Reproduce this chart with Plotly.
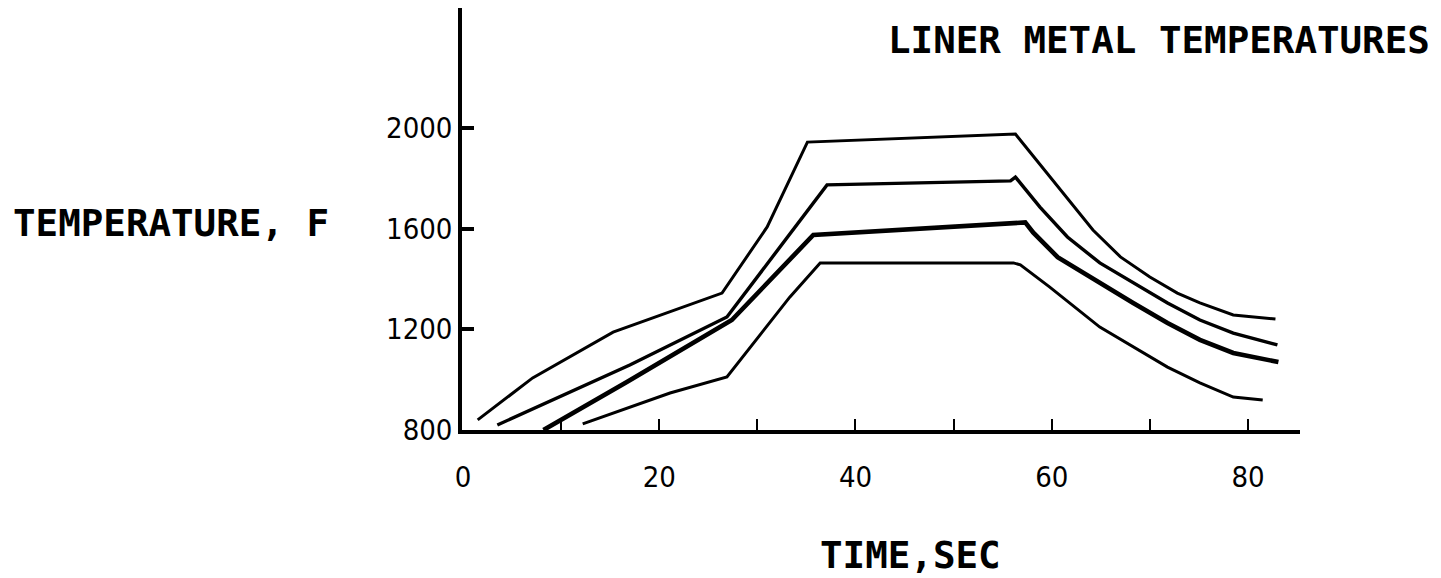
import plotly.graph_objects as go

# ---- data (time in s, temperature in F) ----
t1 = [1.5, 7.1, 15.3, 21.1, 26.4, 31.0, 35.1, 56.3, 64.2, 67.0, 70.0, 72.8, 75.1, 78.5, 82.8]
T1 = [840, 1007, 1189, 1269, 1344, 1607, 1944, 1976, 1595, 1488, 1408, 1344, 1305, 1257, 1241]

t2 = [3.5, 17.0, 26.9, 37.1, 55.8, 56.3, 58.8, 61.6, 64.9, 68.3, 71.8, 75.1, 78.5, 83.0]
T2 = [820, 1058, 1249, 1774, 1790, 1805, 1686, 1567, 1464, 1384, 1305, 1237, 1185, 1138]

t3 = [8.2, 16.7, 27.4, 35.7, 57.3, 58.1, 60.6, 64.9, 68.3, 71.8, 75.1, 78.5, 83.1]
T3 = [800, 991, 1237, 1575, 1625, 1585, 1487, 1384, 1305, 1225, 1158, 1106, 1070]

t4 = [12.2, 21.1, 26.9, 33.3, 36.4, 56.1, 56.8, 59.8, 64.9, 68.3, 71.8, 75.1, 78.5, 81.5]
T4 = [824, 947, 1011, 1328, 1464, 1464, 1456, 1368, 1209, 1130, 1050, 987, 931, 919]

series = [(t1, T1, 3.0), (t2, T2, 3.4), (t3, T3, 4.6), (t4, T4, 3.0)]

x_tickvals = [0, 10, 20, 30, 40, 50, 60, 70, 80]
x_ticktext = ["0", "", "20", "", "40", "", "60", "", "80"]
y_tickvals = [800, 1200, 1600, 2000]
y_ticktext = ["800", "1200", "1600", "2000"]

title_text = "LINER METAL TEMPERATURES"
ylabel_text = "TEMPERATURE, F"
xlabel_text = "TIME,SEC"

fig = go.Figure()
for tt, TT, w in series:
    fig.add_trace(go.Scatter(x=tt, y=TT, mode="lines",
                             line=dict(color="black", width=w),
                             showlegend=False, hoverinfo="skip"))

tick_font = dict(family="Liberation Sans Narrow, DejaVu Sans Condensed, Liberation Sans",
                 size=29, color="black")
label_font = dict(family="DejaVu Sans Mono", size=37.5, color="black", weight="bold")

# page body has an 8px margin: work in page pixels minus 8
OFF = 8
L, R, T, B = 462 - OFF, 1300 - OFF, 8 - OFF, 430 - OFF
W, H = 1441 - OFF, 578 - OFF

fig.update_layout(
    width=W, height=H,
    margin=dict(l=L, r=W - R, t=T, b=H - B, pad=0),
    paper_bgcolor="white", plot_bgcolor="white",
    xaxis=dict(range=[-0.1, 85.3], showgrid=False, zeroline=False,
               showline=True, linecolor="black", linewidth=3.5,
               tickmode="array", tickvals=x_tickvals, ticktext=x_ticktext,
               ticks="inside", ticklen=11, tickwidth=2.2, tickcolor="black",
               tickfont=tick_font, ticklabelstandoff=18),
    yaxis=dict(range=[800, 2477], showgrid=False, zeroline=False,
               showline=True, linecolor="black", linewidth=3.5,
               tickmode="array", tickvals=y_tickvals, ticktext=y_ticktext,
               ticks="inside", ticklen=12, tickwidth=3.5, tickcolor="black",
               tickfont=tick_font, ticklabelstandoff=0),
)

def px_x(p):
    return (p - OFF - L) / (R - L)

def px_y(p):
    return (B - (p - OFF)) / (B - T)

fig.add_annotation(text=title_text, xref="paper", yref="paper",
                   x=px_x(886), y=px_y(40), xanchor="left", yanchor="middle",
                   showarrow=False, font=label_font)
fig.add_annotation(text=ylabel_text, xref="paper", yref="paper",
                   x=px_x(11), y=px_y(223), xanchor="left", yanchor="middle",
                   showarrow=False, font=label_font)
fig.add_annotation(text=xlabel_text, xref="paper", yref="paper",
                   x=px_x(910), y=px_y(555), xanchor="center", yanchor="middle",
                   showarrow=False, font=label_font)

fig.write_html("out.html")
